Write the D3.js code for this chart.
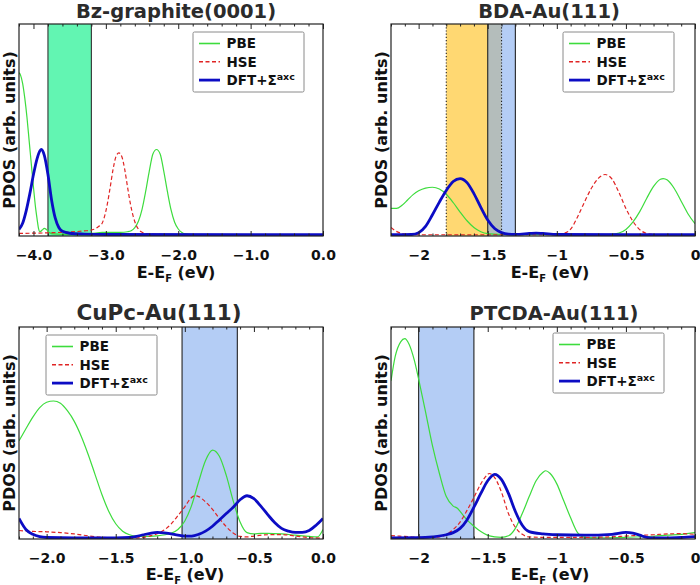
<!DOCTYPE html>
<html><head><meta charset="utf-8">
<script src="https://cdn.jsdelivr.net/npm/d3@7"></script>
<style>
body{margin:0;background:#fff}
svg{display:block}
text{font-family:"DejaVu Sans",sans-serif;font-weight:bold}
</style>
</head><body>
<svg id="chart" width="700" height="585"></svg>
<script>
// ---------------- DATA ----------------
const titles = ["Bz-graphite(0001)", "BDA-Au(111)", "CuPc-Au(111)", "PTCDA-Au(111)"];
const xDomains = [[-4.2, 0], [-2.2, 0], [-2.2, 0], [-2.2, 0]];
const majorTicks = [[-4, -3, -2, -1, 0], [-2, -1.5, -1, -0.5, 0], [-2, -1.5, -1, -0.5, 0], [-2, -1.5, -1, -0.5, 0]];
const tickLabels = [["\u22124.0", "\u22123.0", "\u22122.0", "\u22121.0", "0.0"],
                    ["\u22122", "\u22121.5", "\u22121", "\u22120.5", "0"],
                    ["\u22122.0", "\u22121.5", "\u22121.0", "\u22120.5", "0.0"],
                    ["\u22122", "\u22121.5", "\u22121", "\u22120.5", "0"]];
const minorSteps = [0.2, 0.1, 0.1, 0.1];
const seriesNames = ["PBE", "HSE", "DFT+\u03A3"];
const seriesSup = ["", "", "axc"];

// Bz-graphite(0001)
const pbe1 = [[-4.2,0.77],[-4.18,0.76],[-4.15,0.72],[-4.12,0.65],[-4.09,0.56],[-4.06,0.45],[-4.03,0.34],[-4.0,0.23],[-3.97,0.13],[-3.95,0.08],[-3.93,0.035],[-3.91,0.02],[-3.88,0.028],[-3.85,0.036],[-3.82,0.03],[-3.78,0.016],[-3.72,0.01],[-3.6,0.008],[-3.4,0.009],[-3.2,0.012],[-3.05,0.017],[-2.9,0.017],[-2.8,0.017],[-2.7,0.02],[-2.65,0.025],[-2.6,0.04],[-2.55,0.07],[-2.5,0.126],[-2.45,0.21],[-2.4,0.306],[-2.35,0.387],[-2.3,0.408],[-2.25,0.387],[-2.2,0.306],[-2.15,0.21],[-2.1,0.124],[-2.05,0.065],[-2.0,0.033],[-1.95,0.017],[-1.9,0.01],[-1.8,0.007],[-1.5,0.006],[0,0.006]];
const hse1 = [[-4.2,0.012],[-3.8,0.015],[-3.5,0.019],[-3.3,0.024],[-3.2,0.028],[-3.14,0.035],[-3.1,0.045],[-3.06,0.055],[-3.02,0.09],[-2.98,0.15],[-2.94,0.23],[-2.9,0.315],[-2.86,0.375],[-2.82,0.392],[-2.78,0.375],[-2.74,0.315],[-2.7,0.23],[-2.66,0.15],[-2.62,0.09],[-2.58,0.05],[-2.54,0.028],[-2.5,0.018],[-2.45,0.012],[-2.4,0.01],[-2.2,0.007],[0,0.006]];
const dft1 = [[-4.2,0.031],[-4.15,0.06],[-4.1,0.12],[-4.05,0.2],[-4.0,0.29],[-3.95,0.365],[-3.91,0.402],[-3.89,0.408],[-3.85,0.38],[-3.8,0.29],[-3.75,0.17],[-3.7,0.085],[-3.65,0.04],[-3.6,0.022],[-3.5,0.013],[-3.3,0.009],[-3.0,0.007],[0,0.006]];
const bands1 = [[-3.8, -3.2]];

// BDA-Au(111)
const pbe2 = [[-2.2,0.13],[-2.16,0.13],[-2.12,0.145],[-2.08,0.17],[-2.04,0.195],[-2.0,0.213],[-1.95,0.226],[-1.9,0.23],[-1.85,0.222],[-1.8,0.197],[-1.75,0.158],[-1.7,0.113],[-1.65,0.072],[-1.6,0.04],[-1.55,0.02],[-1.5,0.011],[-1.4,0.007],[-0.65,0.006],[-0.6,0.008],[-0.55,0.014],[-0.5,0.031],[-0.45,0.065],[-0.4,0.115],[-0.35,0.177],[-0.3,0.234],[-0.25,0.268],[-0.23,0.271],[-0.2,0.264],[-0.15,0.224],[-0.1,0.164],[-0.05,0.104],[0,0.058]];
const hse2 = [[-2.2,0.04],[-2.17,0.025],[-2.13,0.014],[-2.08,0.008],[-2.0,0.006],[-1.0,0.006],[-0.95,0.012],[-0.9,0.032],[-0.85,0.09],[-0.8,0.16],[-0.75,0.225],[-0.7,0.272],[-0.65,0.29],[-0.6,0.268],[-0.55,0.205],[-0.5,0.13],[-0.45,0.07],[-0.4,0.03],[-0.35,0.012],[-0.3,0.007],[-0.2,0.006],[0,0.006]];
const dft2 = [[-2.2,0.006],[-2.05,0.007],[-2.0,0.015],[-1.95,0.045],[-1.9,0.1],[-1.85,0.16],[-1.8,0.215],[-1.75,0.257],[-1.7,0.271],[-1.65,0.252],[-1.6,0.2],[-1.55,0.135],[-1.5,0.075],[-1.45,0.035],[-1.4,0.016],[-1.35,0.009],[-1.3,0.008],[-1.2,0.012],[-1.15,0.014],[-1.1,0.012],[-1.0,0.007],[0,0.006]];
const bands2 = [[-1.8, -1.4], [-1.5, -1.3]];

// CuPc-Au(111)
const pbe3 = [[-2.2,0.463],[-2.15,0.52],[-2.1,0.575],[-2.05,0.62],[-2.0,0.645],[-1.95,0.651],[-1.9,0.64],[-1.85,0.605],[-1.8,0.555],[-1.75,0.485],[-1.7,0.4],[-1.65,0.305],[-1.6,0.21],[-1.55,0.13],[-1.5,0.072],[-1.45,0.037],[-1.4,0.02],[-1.35,0.013],[-1.3,0.012],[-1.2,0.015],[-1.1,0.027],[-1.05,0.045],[-1.0,0.085],[-0.95,0.16],[-0.9,0.27],[-0.85,0.37],[-0.8,0.419],[-0.75,0.39],[-0.7,0.3],[-0.65,0.18],[-0.6,0.08],[-0.55,0.03],[-0.5,0.024],[-0.45,0.027],[-0.4,0.027],[-0.3,0.024],[-0.2,0.018],[-0.1,0.012],[-0.04,0.01],[0,0.045]];
const hse3 = [[-2.2,0.04],[-2.1,0.036],[-2.0,0.034],[-1.9,0.03],[-1.8,0.024],[-1.7,0.015],[-1.6,0.008],[-1.5,0.005],[-1.4,0.004],[-1.3,0.008],[-1.25,0.015],[-1.2,0.025],[-1.15,0.042],[-1.1,0.07],[-1.05,0.11],[-1.0,0.152],[-0.96,0.19],[-0.93,0.204],[-0.9,0.2],[-0.85,0.175],[-0.8,0.14],[-0.75,0.097],[-0.7,0.058],[-0.65,0.028],[-0.6,0.012],[-0.55,0.01],[-0.5,0.014],[-0.4,0.02],[-0.3,0.021],[-0.2,0.014],[-0.1,0.007],[0,0.004]];
const dft3 = [[-2.2,0.097],[-2.15,0.045],[-2.1,0.022],[-2.05,0.011],[-2.0,0.007],[-1.8,0.005],[-1.6,0.005],[-1.5,0.005],[-1.4,0.007],[-1.35,0.012],[-1.3,0.02],[-1.25,0.027],[-1.2,0.031],[-1.15,0.029],[-1.1,0.024],[-1.05,0.018],[-1.0,0.014],[-0.95,0.014],[-0.9,0.022],[-0.85,0.037],[-0.8,0.06],[-0.75,0.09],[-0.7,0.12],[-0.65,0.15],[-0.6,0.185],[-0.55,0.204],[-0.5,0.19],[-0.45,0.155],[-0.4,0.115],[-0.35,0.078],[-0.3,0.05],[-0.25,0.037],[-0.2,0.031],[-0.15,0.031],[-0.1,0.04],[-0.05,0.065],[0,0.097]];
const bands3 = [[-1.02, -0.62]];

// PTCDA-Au(111)
const pbe4 = [[-2.2,0.746],[-2.17,0.86],[-2.13,0.93],[-2.1,0.945],[-2.07,0.92],[-2.03,0.84],[-2.0,0.754],[-1.95,0.6],[-1.9,0.44],[-1.85,0.31],[-1.8,0.2],[-1.75,0.155],[-1.72,0.145],[-1.7,0.13],[-1.65,0.09],[-1.6,0.06],[-1.55,0.035],[-1.5,0.017],[-1.45,0.01],[-1.4,0.008],[-1.35,0.015],[-1.3,0.05],[-1.25,0.12],[-1.2,0.2],[-1.15,0.275],[-1.1,0.315],[-1.08,0.322],[-1.05,0.31],[-1.0,0.26],[-0.95,0.18],[-0.9,0.1],[-0.85,0.03],[-0.8,0.008],[-0.7,0.006],[-0.5,0.008],[-0.3,0.013],[-0.2,0.018],[-0.1,0.022],[0,0.03]];
const hse4 = [[-2.2,0.016],[-2.1,0.012],[-2.0,0.008],[-1.9,0.008],[-1.85,0.01],[-1.8,0.02],[-1.75,0.045],[-1.7,0.08],[-1.65,0.135],[-1.6,0.196],[-1.55,0.26],[-1.5,0.305],[-1.49,0.309],[-1.45,0.29],[-1.4,0.22],[-1.35,0.12],[-1.3,0.055],[-1.25,0.022],[-1.2,0.01],[-1.1,0.008],[-0.8,0.008],[-0.6,0.01],[-0.5,0.014],[-0.4,0.017],[-0.3,0.02],[-0.2,0.024],[-0.1,0.025],[0,0.022]];
const dft4 = [[-2.2,0.005],[-2.0,0.006],[-1.9,0.01],[-1.8,0.02],[-1.75,0.03],[-1.7,0.05],[-1.65,0.09],[-1.6,0.15],[-1.55,0.215],[-1.5,0.275],[-1.45,0.305],[-1.4,0.28],[-1.35,0.215],[-1.3,0.13],[-1.25,0.065],[-1.2,0.035],[-1.1,0.024],[-1.0,0.02],[-0.8,0.018],[-0.6,0.022],[-0.5,0.031],[-0.45,0.028],[-0.4,0.018],[-0.35,0.008],[-0.3,0.005],[-0.2,0.005],[-0.1,0.007],[0,0.011]];
const bands4 = [[-2.0, -1.6]];

// ---------------- LAYOUT / STYLE ----------------
const seriesByPanel = [[pbe1, hse1, dft1], [pbe2, hse2, dft2], [pbe3, hse3, dft3], [pbe4, hse4, dft4]];
const bandsByPanel = [bands1, bands2, bands3, bands4];
const seriesStyle = [
  {stroke: "#3ddc3d", width: 1.2, dash: null, legendWidth: 1.6},
  {stroke: "#e02424", width: 1.2, dash: "4,2.5", legendWidth: 1.4},
  {stroke: "#0c0cc4", width: 2.8, dash: null, legendWidth: 2.8}
];
const blueBand = {fill: "rgb(128,170,238)", opacity: 0.59, edge: "#222", dash: null};
const bandStyles = [
  [{fill: "#62f5b2", opacity: 1, edge: "#333", dash: null}],
  [{fill: "#ffd872", opacity: 1, edge: "#222", dash: "1.2,2"}, blueBand],
  [blueBand],
  [blueBand]
];
const layout = [
  {x0: 19, x1: 323, y0: 24, y1: 236, title: [176, 18], xlab: [176, 278], ylab: [15, 130], legend: [193, 32],
   titleSize: 19.5, tickSize: 14, xlabSize: 16},
  {x0: 391, x1: 695, y0: 24, y1: 236, title: [549, 18], xlab: [550, 278], ylab: [387, 130], legend: [563, 32],
   titleSize: 19.5, tickSize: 14, xlabSize: 16},
  {x0: 19, x1: 323, y0: 327, y1: 539, title: [159, 320], xlab: [185, 580], ylab: [15, 433], legend: [46, 335],
   titleSize: 21.5, tickSize: 14, xlabSize: 16},
  {x0: 391, x1: 695, y0: 327, y1: 539, title: [554, 320], xlab: [550, 580], ylab: [387, 433], legend: [553, 333],
   titleSize: 19.5, tickSize: 14, xlabSize: 16}
];

const svg = d3.select("#chart");
const defs = svg.append("defs");

layout.forEach((L, i) => {
  const g = svg.append("g");
  const x = d3.scaleLinear().domain(xDomains[i]).range([L.x0, L.x1]);
  const y = d3.scaleLinear().domain([0, 1]).range([L.y1, L.y0]);

  defs.append("clipPath").attr("id", "clip" + i)
    .append("rect").attr("x", L.x0).attr("y", L.y0).attr("width", L.x1 - L.x0).attr("height", L.y1 - L.y0);
  const plot = g.append("g").attr("clip-path", `url(#clip${i})`);

  // bands
  bandsByPanel[i].forEach((b, k) => {
    const st = bandStyles[i][k];
    plot.append("rect")
      .attr("x", x(b[0])).attr("y", L.y0)
      .attr("width", x(b[1]) - x(b[0])).attr("height", L.y1 - L.y0)
      .attr("fill", st.fill).attr("fill-opacity", st.opacity);
  });
  bandsByPanel[i].forEach((b, k) => {
    const st = bandStyles[i][k];
    b.forEach(v => {
      plot.append("line")
        .attr("x1", x(v)).attr("x2", x(v)).attr("y1", L.y0).attr("y2", L.y1)
        .attr("stroke", st.edge).attr("stroke-width", 1.1)
        .attr("stroke-dasharray", st.dash);
    });
  });

  // curves
  const line = d3.line().x(d => x(d[0])).y(d => y(d[1])).curve(d3.curveMonotoneX);
  seriesByPanel[i].forEach((s, k) => {
    const st = seriesStyle[k];
    plot.append("path").datum(s).attr("d", line)
      .attr("fill", "none").attr("stroke", st.stroke).attr("stroke-width", st.width)
      .attr("stroke-dasharray", st.dash).attr("stroke-linejoin", "round");
  });

  // axes
  const step = minorSteps[i];
  const d0 = xDomains[i][0], d1 = xDomains[i][1];
  const minor = d3.range(Math.round(d0 / step), Math.round(d1 / step) + 1)
    .map(k => +(k * step).toFixed(3))
    .filter(v => !majorTicks[i].some(m => Math.abs(m - v) < 1e-6));

  const styleAxis = sel => {
    sel.select(".domain").remove();
    sel.selectAll(".tick line").attr("stroke", "#222").attr("stroke-width", 1);
  };
  g.append("g").attr("transform", `translate(0,${L.y1})`)
    .call(d3.axisBottom(x).tickValues(majorTicks[i]).tickSize(-5)
      .tickPadding(23.5 - 0.71 * L.tickSize)
      .tickFormat((d, j) => tickLabels[i][j]))
    .call(styleAxis)
    .call(s => s.selectAll(".tick text").attr("fill", "#111").style("font-size", L.tickSize + "px")
      .style("font-family", "DejaVu Sans").style("font-weight", "bold"));
  g.append("g").attr("transform", `translate(0,${L.y1})`)
    .call(d3.axisBottom(x).tickValues(minor).tickSize(-2.5).tickFormat(""))
    .call(styleAxis);
  g.append("g").attr("transform", `translate(0,${L.y0})`)
    .call(d3.axisTop(x).tickValues(majorTicks[i]).tickSize(-5).tickFormat(""))
    .call(styleAxis);
  g.append("g").attr("transform", `translate(0,${L.y0})`)
    .call(d3.axisTop(x).tickValues(minor).tickSize(-2.5).tickFormat(""))
    .call(styleAxis);

  // frame
  g.append("rect").attr("x", L.x0).attr("y", L.y0)
    .attr("width", L.x1 - L.x0).attr("height", L.y1 - L.y0)
    .attr("fill", "none").attr("stroke", "#222").attr("stroke-width", 1.2);

  // title
  g.append("text").attr("x", L.title[0]).attr("y", L.title[1])
    .attr("text-anchor", "middle").attr("fill", "#2b2b2b").style("font-size", L.titleSize + "px")
    .text(titles[i]);

  // x label
  const xl = g.append("text").attr("x", L.xlab[0]).attr("y", L.xlab[1])
    .attr("text-anchor", "middle").attr("fill", "#111").style("font-size", L.xlabSize + "px");
  xl.append("tspan").text("E-E");
  xl.append("tspan").attr("dy", 4).style("font-size", (L.xlabSize * 0.62) + "px").text("F");
  xl.append("tspan").attr("dy", -4).text(" (eV)");

  // y label
  g.append("text")
    .attr("transform", `translate(${L.ylab[0]},${L.ylab[1]}) rotate(-90)`)
    .attr("text-anchor", "middle").attr("fill", "#111").style("font-size", "16px")
    .text("PDOS (arb. units)");

  // legend
  const lg = g.append("g").attr("transform", `translate(${L.legend[0]},${L.legend[1]})`);
  lg.append("rect").attr("width", 111).attr("height", 60)
    .attr("fill", "#fff").attr("stroke", "#8a8a8a").attr("stroke-width", 1).attr("rx", 1.5);
  seriesNames.forEach((name, k) => {
    const st = seriesStyle[k];
    const ly = 11.5 + k * 18.3;
    lg.append("line").attr("x1", 6).attr("x2", 27).attr("y1", ly).attr("y2", ly)
      .attr("stroke", st.stroke).attr("stroke-width", st.legendWidth).attr("stroke-dasharray", st.dash);
    const t = lg.append("text").attr("x", 33.5).attr("y", ly + 4.9)
      .attr("fill", "#111").style("font-size", "13.5px");
    t.append("tspan").text(name);
    if (seriesSup[k]) t.append("tspan").attr("dy", -5).style("font-size", "9.5px").text(seriesSup[k]);
  });
});
</script>
</body></html>
